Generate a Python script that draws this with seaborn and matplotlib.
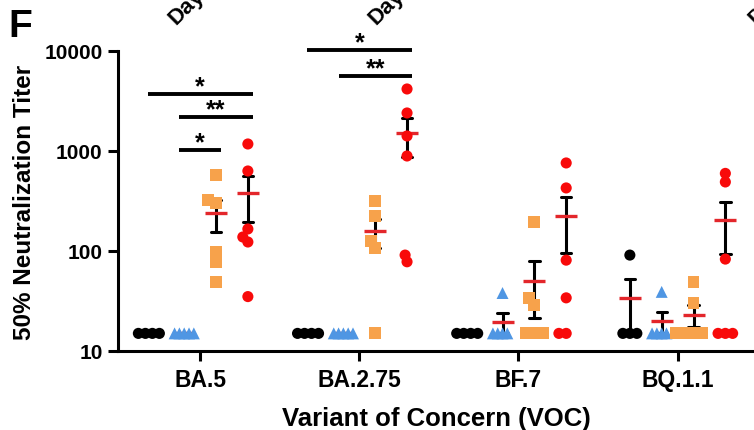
import matplotlib
matplotlib.use("Agg")
import matplotlib.pyplot as plt
from matplotlib.ticker import FuncFormatter, NullLocator
import numpy as np
import pandas as pd
import seaborn as sns

# ---------------------------------------------------------
# data

variants = ["BA.5", "BA.2.75", "BF.7", "BQ.1.1"]
groups = ["Group 1", "Group 2", "Group 3", "Group 4"]

# one list per variant: BA.5, BA.2.75, BF.7, BQ.1.1
group1_titers = [[15, 15, 15, 15], [15, 15, 15, 15], [15, 15, 15, 15], [91, 15, 15, 15]]
group2_titers = [[15, 15, 15, 15, 15], [15, 15, 15, 15, 15], [38, 15, 15, 15, 15], [39, 15, 15, 15, 15]]
group3_titers = [[575, 324, 302, 98, 78, 49], [316, 224, 126, 107, 15],
                 [195, 34, 29, 15, 15, 15], [49, 30, 15, 15, 15, 15]]
group4_titers = [[1175, 631, 166, 138, 123, 35], [4169, 2399, 1413, 891, 91, 78],
                 [759, 427, 81, 34, 15, 15], [597, 490, 83, 15, 15, 15]]

# significance brackets
sig_variant = ["BA.5", "BA.5", "BA.5", "BA.2.75", "BA.2.75"]
sig_left = ["Group 1", "Group 2", "Group 2", "Group 1", "Group 2"]
sig_right = ["Group 4", "Group 4", "Group 3", "Group 4", "Group 4"]
sig_height = [3700, 2200, 1020, 10200, 5600]
sig_label = ["*", "**", "*", "*", "**"]

# ---------------------------------------------------------

rows = []
for group, titers in zip(groups, [group1_titers, group2_titers, group3_titers, group4_titers]):
    for variant, values in zip(variants, titers):
        for v in values:
            rows.append({"Variant": variant, "Group": group, "Titer": v})
df = pd.DataFrame(rows)

group_colors = {"Group 1": "#000000", "Group 2": "#4F96E3",
                "Group 3": "#F7A24B", "Group 4": "#F80A0A"}
group_markers = {"Group 1": "o", "Group 2": "^", "Group 3": "s", "Group 4": "o"}
layout_size = {"Group 1": 4.8, "Group 2": 3.3, "Group 3": 6.0, "Group 4": 5.0}
marker_size = {"Group 1": 8.0, "Group 2": 8.6, "Group 3": 8.6, "Group 4": 8.0}
mean_red = "#E3262B"

sns.set_theme(style="ticks")
plt.rcParams["font.family"] = ["Liberation Sans", "DejaVu Sans"]
plt.rcParams["font.weight"] = "bold"
plt.rcParams["text.color"] = "black"
plt.rcParams["axes.labelcolor"] = "black"

fig = plt.figure(figsize=(7.54, 4.31), dpi=100)
ax = fig.add_axes([0.1565, 0.1833, 0.8435, 0.6961])

# mean +/- SEM
sns.pointplot(
    data=df, x="Variant", y="Titer", hue="Group",
    order=variants, hue_order=groups,
    palette={g: mean_red for g in groups},
    estimator="mean", errorbar="se",
    dodge=0.6, markers="_", linestyle="none",
    markersize=16, markeredgewidth=2.4, zorder=2.5,
    capsize=0.065,
    err_kws={"color": "black", "linewidth": 2.2, "zorder": 2},
    legend=False, ax=ax
)

# individual points
swarms = {}
for group in groups:
    before = len(ax.collections)
    sns.swarmplot(
        data=df[df["Group"] == group], x="Variant", y="Titer", hue="Group",
        order=variants, hue_order=groups, palette=group_colors,
        marker=group_markers[group], size=layout_size[group],
        dodge=True, linewidth=0, legend=False, ax=ax, zorder=3
    )
    swarms[group] = ax.collections[before:]

ax.set_yscale("log")
ax.set_ylim(10, 10000)
ax.set_xlim(-0.516, 3.48)
ax.yaxis.set_minor_locator(NullLocator())
ax.yaxis.set_major_formatter(FuncFormatter(lambda v, p: f"{v:g}"))

# lay the swarm out with tight spacing, then enlarge the markers
fig.canvas.draw()
for group, colls in swarms.items():
    for coll in colls:
        coll.__dict__.pop("draw", None)
        coll.set_sizes([marker_size[group] ** 2])

# significance brackets
offsets = np.linspace(-0.3, 0.3, len(groups))
for v, a, b, h, lab in zip(sig_variant, sig_left, sig_right, sig_height, sig_label):
    x0 = variants.index(v) + offsets[groups.index(a)] - 0.03
    x1 = variants.index(v) + offsets[groups.index(b)] + 0.03
    ax.plot([x0, x1], [h, h], color="black", linewidth=2.8, clip_on=False,
            solid_capstyle="butt")
    ax.annotate(lab, xy=((x0 + x1) / 2, h), xytext=(0, -3),
                textcoords="offset points", ha="center", va="bottom",
                fontsize=18, annotation_clip=False)

sns.despine(ax=ax)
for side in ["left", "bottom"]:
    ax.spines[side].set_linewidth(2.2)
    ax.spines[side].set_color("black")
ax.tick_params(axis="both", direction="out", length=7, width=2.2, colors="black")
ax.tick_params(axis="y", labelsize=15, pad=4)
ax.tick_params(axis="x", labelsize=16.5, pad=5)

ax.set_xlabel("Variant of Concern (VOC)", fontsize=18.5, fontweight="bold", labelpad=11)
ax.set_ylabel("50% Neutralization Titer", fontsize=17.5, fontweight="bold", labelpad=6)

# panel letter and clipped labels from the panel above
fig.text(0.011, 0.915, "F", fontsize=28, fontweight="bold")
for xf in [0.233, 0.499, 1.003]:
    fig.text(xf, 0.94, "Day", fontsize=16, fontweight="bold", rotation=45,
             rotation_mode="anchor", ha="left", va="baseline")

fig.savefig("out.png", dpi=100)
